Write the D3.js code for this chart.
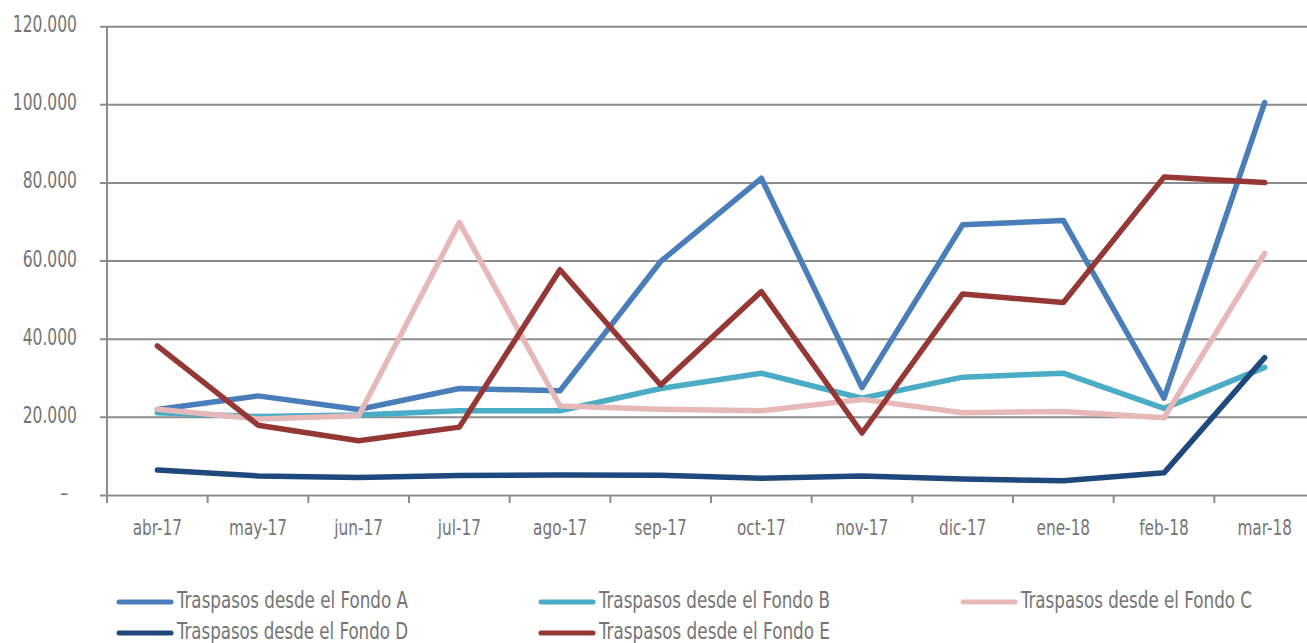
<!DOCTYPE html>
<html>
<head>
<meta charset="utf-8">
<script src="https://cdn.jsdelivr.net/npm/d3@7"></script>
<style>
  html, body { margin: 0; padding: 0; background: #fff; }
  svg { display: block; }
  text { font-family: "Liberation Sans Narrow", "DejaVu Sans Condensed", "Liberation Sans", sans-serif; fill: #747474; }
</style>
</head>
<body>
<svg id="chart" width="1307" height="643"></svg>
<script>
const categories = ["abr-17","may-17","jun-17","jul-17","ago-17","sep-17","oct-17","nov-17","dic-17","ene-18","feb-18","mar-18"];
const fondoA = [22000, 25500, 22000, 27400, 26800, 59900, 81200, 27600, 69300, 70400, 24900, 100600];
const fondoB = [21200, 20200, 20600, 21700, 21700, 27400, 31300, 24900, 30300, 31300, 22300, 32800];
const fondoC = [22100, 19600, 20400, 69900, 22900, 22100, 21700, 24600, 21200, 21500, 19900, 62000];
const fondoD = [6500, 5000, 4600, 5100, 5250, 5200, 4400, 5000, 4200, 3800, 5800, 35300];
const fondoE = [38300, 18000, 14000, 17500, 57800, 28300, 52200, 16000, 51600, 49400, 81500, 80100];
const yTicks = [0, 20000, 40000, 60000, 80000, 100000, 120000];
const seriesNames = ["Traspasos desde el Fondo A","Traspasos desde el Fondo B","Traspasos desde el Fondo C","Traspasos desde el Fondo D","Traspasos desde el Fondo E"];

const series = [
  {name: seriesNames[0], values: fondoA, color: "#4a7ebb"},
  {name: seriesNames[1], values: fondoB, color: "#4bacc6"},
  {name: seriesNames[2], values: fondoC, color: "#e6b9b8"},
  {name: seriesNames[3], values: fondoD, color: "#1f497d"},
  {name: seriesNames[4], values: fondoE, color: "#953735"}
];

const svg = d3.select("#chart");
const plotLeft = 107, plotRight = 1315, plotTop = 26.7, plotBottom = 495.5;

const x = d3.scaleBand().domain(categories).range([plotLeft, plotRight]);
const y = d3.scaleLinear().domain([0, 120000]).range([plotBottom, plotTop]);

const gridColor = "#8c8c8c";

function condense(sel, k) {
  sel.each(function() {
    const w = this.getComputedTextLength();
    if (w > 0) {
      this.setAttribute("textLength", (w * k).toFixed(2));
      this.setAttribute("lengthAdjust", "spacingAndGlyphs");
    }
  });
}

// gridlines
svg.append("g").selectAll("line").data(yTicks).join("line")
  .attr("x1", 100).attr("x2", 1307)
  .attr("y1", d => y(d)).attr("y2", d => y(d))
  .attr("stroke", gridColor).attr("stroke-width", 2);

// y axis line
svg.append("line").attr("x1", plotLeft).attr("x2", plotLeft)
  .attr("y1", plotTop).attr("y2", plotBottom + 7.5)
  .attr("stroke", gridColor).attr("stroke-width", 2);

// x ticks at band boundaries
const bounds = categories.map(c => x(c)).concat([x(categories[categories.length-1]) + x.bandwidth()]);
svg.append("g").selectAll("line").data(bounds).join("line")
  .attr("x1", d => d).attr("x2", d => d)
  .attr("y1", plotBottom).attr("y2", plotBottom + 7.5)
  .attr("stroke", gridColor).attr("stroke-width", 2);

// y labels
const fmt = d => d === 0 ? "–" : d3.format(",")(d).replace(/,/g, ".");
const yl = svg.append("g").selectAll("text").data(yTicks).join("text")
  .attr("x", d => d === 0 ? 68 : 77)
  .attr("y", d => y(d) + 5.5)
  .attr("text-anchor", "end")
  .attr("font-size", 23)
  .text(fmt);
condense(yl, 0.75);

// x labels
const xl = svg.append("g").selectAll("text").data(categories).join("text")
  .attr("x", d => x(d) + x.bandwidth()/2)
  .attr("y", 535)
  .attr("text-anchor", "middle")
  .attr("font-size", 21)
  .text(d => d);
condense(xl, 0.81);

// lines
const line = d3.line()
  .x((d, i) => x(categories[i]) + x.bandwidth()/2)
  .y(d => y(d));

svg.append("g").selectAll("path").data(series).join("path")
  .attr("d", d => line(d.values))
  .attr("fill", "none")
  .attr("stroke", d => d.color)
  .attr("stroke-width", 5.5)
  .attr("stroke-linejoin", "round")
  .attr("stroke-linecap", "round");

// legend
const legendPos = [
  {lx: 117, ly: 602},
  {lx: 539, ly: 602},
  {lx: 961, ly: 602},
  {lx: 117, ly: 633},
  {lx: 539, ly: 633}
];
const lg = svg.append("g").selectAll("g").data(series).join("g")
  .attr("transform", (d, i) => `translate(${legendPos[i].lx},${legendPos[i].ly})`);
lg.append("line")
  .attr("x1", 2).attr("x2", 54).attr("y1", 0).attr("y2", 0)
  .attr("stroke", d => d.color).attr("stroke-width", 5)
  .attr("stroke-linecap", "round");
lg.append("text")
  .attr("x", 60).attr("y", 5.5)
  .attr("font-size", 23)
  .attr("textLength", 231)
  .attr("lengthAdjust", "spacingAndGlyphs")
  .text(d => d.name);
</script>
</body>
</html>
